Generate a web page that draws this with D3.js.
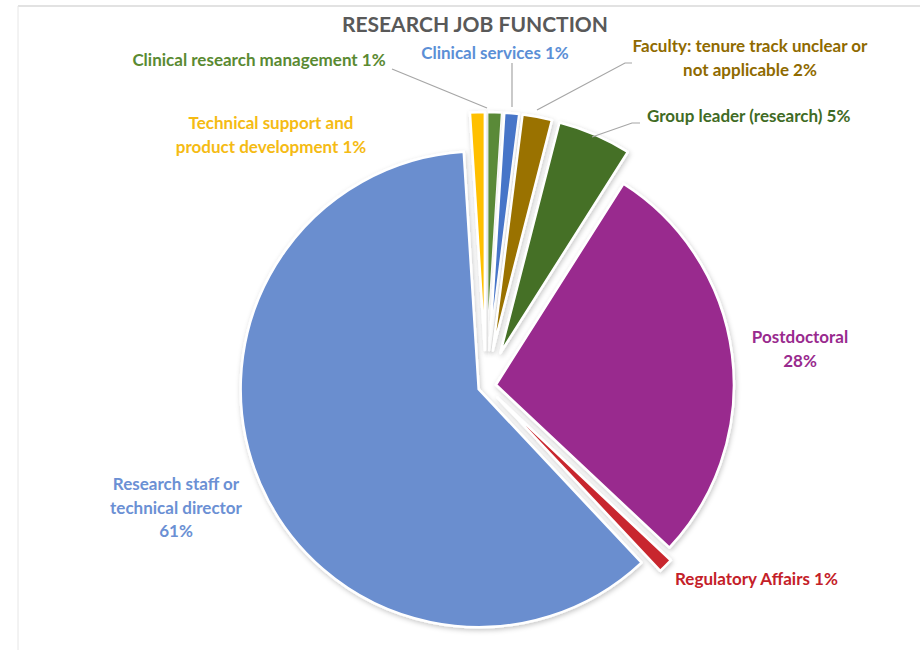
<!DOCTYPE html>
<html>
<head>
<meta charset="utf-8">
<script src="https://cdn.jsdelivr.net/npm/d3@7"></script>
<style>
  html, body { margin: 0; padding: 0; background: #fff; }
  svg { display: block; font-family: Lato, "Open Sans", sans-serif; }
</style>
</head>
<body>
<svg id="chart" width="920" height="650"></svg>
<script>
// ---- data ----
const title = "RESEARCH JOB FUNCTION";
const categories = [
  "Clinical research management",
  "Clinical services",
  "Faculty: tenure track unclear or not applicable",
  "Group leader (research)",
  "Postdoctoral",
  "Regulatory Affairs",
  "Research staff or technical director",
  "Technical support and product development"
];
const values = [1, 1, 2, 5, 28, 1, 61, 1];
const labelLines = [
  ["Clinical research management {p}"],
  ["Clinical services {p}"],
  ["Faculty: tenure track unclear or", "not applicable {p}"],
  ["Group leader (research) {p}"],
  ["Postdoctoral", "{p}"],
  ["Regulatory Affairs {p}"],
  ["Research staff or", "technical director", "{p}"],
  ["Technical support and", "product development {p}"]
];

// ---- styles / layout ----
const sliceColors = ["#5a8a37", "#4674c8", "#9a7200", "#446f27", "#992a8e", "#c8282e", "#6a8ecf", "#ffc000"];
const textColors  = ["#5a8a32", "#5b8fd6", "#8f6a00", "#3f6b25", "#992a8e", "#c42028", "#6b90d4", "#f5bb14"];
const explode = [36, 36, 36, 36, 10, 16, 8, 36];
const labelPos = [
  {x: 259, y: 66,  anchor: "middle"},
  {x: 495, y: 59,  anchor: "middle"},
  {x: 750, y: 52,  anchor: "middle"},
  {x: 647, y: 122, anchor: "start"},
  {x: 800, y: 343, anchor: "middle"},
  {x: 675, y: 585, anchor: "start"},
  {x: 176, y: 490, anchor: "middle"},
  {x: 271, y: 129, anchor: "middle"}
];
const leaders = {
  0: [[392, 69], [487, 108]],
  1: [[512, 63], [512, 107]],
  2: [[632, 63], [625, 63], [537, 110]],
  3: [[640, 123], [632, 123], [592, 137]]
};
const lineH = 23.5;
const cx = 486, cy = 386, R = 238;

const svg = d3.select("#chart");
const total = d3.sum(values);

// frame
svg.append("line").attr("x1", 18).attr("x2", 920).attr("y1", 6).attr("y2", 6)
  .attr("stroke", "#d9d9d9").attr("stroke-width", 1.5);
svg.append("line").attr("x1", 18).attr("x2", 18).attr("y1", 6).attr("y2", 650)
  .attr("stroke", "#e6e6e6").attr("stroke-width", 1);

// shadow filter
const defs = svg.append("defs");
const f = defs.append("filter").attr("id", "sh").attr("x", "-20%").attr("y", "-20%")
  .attr("width", "140%").attr("height", "140%");
f.append("feDropShadow").attr("dx", 1).attr("dy", 2).attr("stdDeviation", 2.5)
  .attr("flood-color", "#000").attr("flood-opacity", 0.22);

// title
svg.append("text").attr("x", 475).attr("y", 32).attr("text-anchor", "middle")
  .attr("font-size", 21).attr("font-weight", 700).attr("fill", "#595959")
  .text(title);

const pie = d3.pie().sort(null).value(d => d);
const arcs = pie(values);
const arc = d3.arc().innerRadius(0).outerRadius(R);

const g = svg.append("g").attr("transform", `translate(${cx},${cy})`);
g.selectAll("path").data(arcs).enter().append("path")
  .attr("d", arc)
  .attr("fill", (d, i) => sliceColors[i])
  .attr("stroke", "#fff").attr("stroke-width", 2.5).attr("stroke-linejoin", "round")
  .attr("filter", "url(#sh)")
  .attr("transform", (d, i) => {
    const m = (d.startAngle + d.endAngle) / 2;
    return `translate(${explode[i] * Math.sin(m)},${-explode[i] * Math.cos(m)})`;
  });

// leader lines
Object.entries(leaders).forEach(([k, pts]) => {
  svg.append("path").attr("d", d3.line()(pts))
    .attr("fill", "none").attr("stroke", "#a6a6a6").attr("stroke-width", 1.2);
});

// labels
categories.forEach((c, i) => {
  const pct = Math.round(values[i] / total * 100) + "%";
  const t = svg.append("text")
    .attr("x", labelPos[i].x).attr("y", labelPos[i].y)
    .attr("text-anchor", labelPos[i].anchor)
    .attr("font-size", 17).attr("font-weight", 700)
    .attr("fill", textColors[i]);
  labelLines[i].forEach((ln, j) => {
    t.append("tspan").attr("x", labelPos[i].x).attr("dy", j === 0 ? 0 : lineH)
      .text(ln.replace("{p}", pct));
  });
});
</script>
</body>
</html>
